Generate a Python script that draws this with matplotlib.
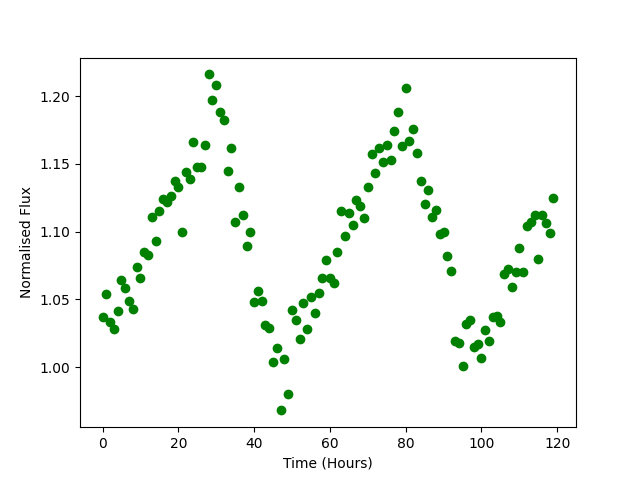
import numpy as np
import matplotlib
matplotlib.use('Agg')
import matplotlib.pyplot as plt

hours = np.arange(120)
flux = [1.037, 1.054, 1.033, 1.028, 1.041, 1.064, 1.058, 1.049, 1.043, 1.074,
        1.066, 1.085, 1.083, 1.111, 1.093, 1.115, 1.124, 1.122, 1.126, 1.137,
        1.133, 1.100, 1.144, 1.139, 1.166, 1.148, 1.148, 1.164, 1.216, 1.197,
        1.208, 1.188, 1.182, 1.145, 1.162, 1.107, 1.133, 1.112, 1.089, 1.100,
        1.048, 1.056, 1.049, 1.031, 1.029, 1.004, 1.014, 0.968, 1.006, 0.980,
        1.042, 1.035, 1.021, 1.047, 1.028, 1.052, 1.040, 1.055, 1.066, 1.079,
        1.066, 1.062, 1.085, 1.115, 1.097, 1.114, 1.105, 1.123, 1.119, 1.110,
        1.133, 1.157, 1.143, 1.162, 1.151, 1.164, 1.153, 1.174, 1.188, 1.163,
        1.206, 1.167, 1.176, 1.158, 1.137, 1.120, 1.131, 1.111, 1.116, 1.098,
        1.100, 1.082, 1.071, 1.019, 1.018, 1.001, 1.032, 1.035, 1.015, 1.017,
        1.007, 1.027, 1.019, 1.037, 1.038, 1.033, 1.069, 1.072, 1.059, 1.070,
        1.088, 1.070, 1.104, 1.107, 1.112, 1.080, 1.112, 1.106, 1.099, 1.125]

plt.figure(figsize=(6.4, 4.8), dpi=100)
plt.plot(hours, flux, 'go')
plt.xlabel('Time (Hours)')
plt.ylabel('Normalised Flux')
plt.savefig('out.png')
